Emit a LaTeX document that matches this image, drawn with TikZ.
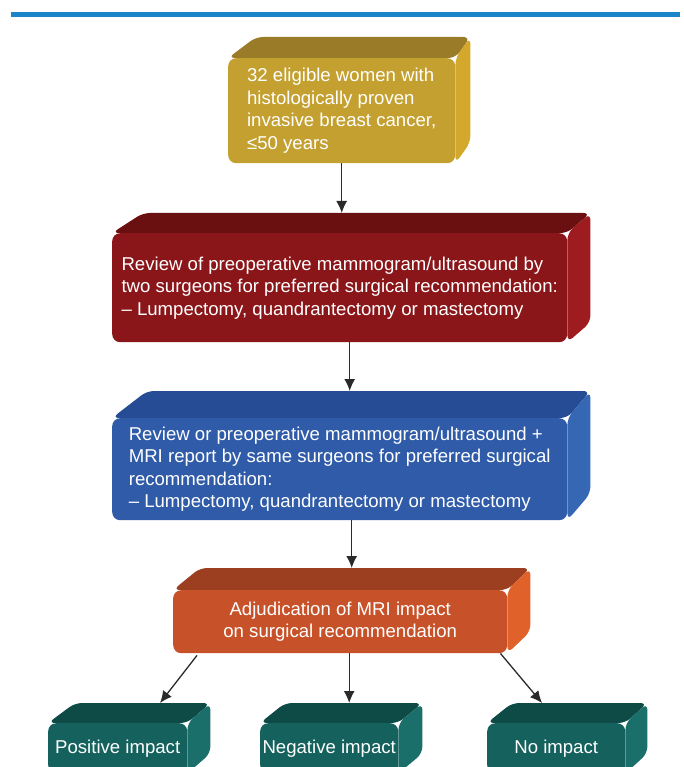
\documentclass[tikz,border=0pt]{standalone}
\usepackage{fontspec}
\setmainfont{Liberation Sans}
\usetikzlibrary{arrows.meta, backgrounds}

\definecolor{barblue}{HTML}{1A85C8}
\definecolor{goldfront}{HTML}{C4A030}
\definecolor{goldtop}{HTML}{9A7C28}
\definecolor{goldside}{HTML}{D4A82C}
\definecolor{winefront}{HTML}{8A1619}
\definecolor{winetop}{HTML}{6A1010}
\definecolor{wineside}{HTML}{9E1C1F}
\definecolor{royalfront}{HTML}{2F5BA8}
\definecolor{royaltop}{HTML}{254C94}
\definecolor{royalside}{HTML}{3567B5}
\definecolor{rustfront}{HTML}{C7522A}
\definecolor{rusttop}{HTML}{9C3F20}
\definecolor{rustside}{HTML}{E0622A}
\definecolor{tealfront}{HTML}{14615D}
\definecolor{tealtop}{HTML}{0E4B47}
\definecolor{tealside}{HTML}{1B6F6A}
\definecolor{arrowgray}{HTML}{2A2A2A}

\newcommand{\boxfont}{\fontsize{18.6}{22.5}\selectfont}

\tikzset{
  flowbox/.style = {rounded corners = 8pt, text = white, font = \boxfont, inner sep = 0pt, anchor = north west},
  flowarrow/.style = {-{Latex[length = 12pt, width = 11pt]}, draw = arrowgray, line width = 1.3pt}
}

\begin{document}
\begin{tikzpicture}[x = 1pt, y = -1pt]
\useasboundingbox (0,0) rectangle (683,767);
\fill[barblue] (11,12) rectangle (680,17);

\node[flowbox, fill = goldfront, align = left, minimum width = 227pt, minimum height = 105pt] (elig) at (228,58) {32 eligible women with\\histologically proven\\invasive breast cancer,\\≤50 years};
\node[flowbox, fill = winefront, align = left, inner xsep = 9pt, minimum width = 455pt, minimum height = 109pt] (review) at (112,233) {Review of preoperative mammogram/ultrasound by\\two surgeons for preferred surgical recommendation:\\– Lumpectomy, quandrantectomy or mastectomy};
\node[flowbox, fill = royalfront, align = left, inner xsep = 16pt, minimum width = 455pt, minimum height = 102pt] (mri) at (112,418) {Review or preoperative mammogram/ultrasound +\\MRI report by same surgeons for preferred surgical\\recommendation:\\– Lumpectomy, quandrantectomy or mastectomy};
\node[flowbox, fill = rustfront, align = center, minimum width = 334pt, minimum height = 63pt] (adj) at (173,590) {Adjudication of MRI impact\\on surgical recommendation};
\node[flowbox, fill = tealfront, minimum width = 139pt, minimum height = 50pt] (pos) at (48,723) {Positive impact};
\node[flowbox, fill = tealfront, minimum width = 138pt, minimum height = 50pt] (neg) at (260,723) {Negative impact};
\node[flowbox, fill = tealfront, minimum width = 138pt, minimum height = 50pt] (none) at (487,723) {No impact};

% top and side faces of the boxes
\begin{pgfonlayer}{background}
\foreach \bx/\lx/\rx/\hy/\col in {elig/28/15/21/gold, review/31/23/20/wine, mri/35/23/27/royal, adj/27/23/22/rust, pos/27/23/20/teal, neg/25/24/20/teal, none/25/22/20/teal}{
  \fill[fill = \col top, rounded corners = 7pt] (\bx.north west) -- ++(\lx pt,\hy pt) -- ([shift = {(\rx pt,\hy pt)}]\bx.north east) -- (\bx.north east) -- cycle;
  \fill[fill = \col side, rounded corners = 7pt] (\bx.north east) -- ++(\rx pt,\hy pt) -- ([shift = {(\rx pt,\hy pt)}]\bx.south east) -- (\bx.south east) -- cycle;
}
\end{pgfonlayer}

\draw[flowarrow] (elig.south) -- ([yshift = 20pt]elig.south |- review.north);
\draw[flowarrow] ([xshift = 10pt]review.south) -- ([xshift = 10pt, yshift = 27pt]review.south |- mri.north);
\draw[flowarrow] ([xshift = 12pt]mri.south) -- ([xshift = 12pt, yshift = 22pt]mri.south |- adj.north);
\draw[flowarrow] ([xshift = 24pt, yshift = -2pt]adj.south west) -- ([xshift = 112pt, yshift = 20pt]pos.north west);
\draw[flowarrow] ([xshift = 9pt]adj.south) -- ([xshift = 9pt, yshift = 20pt]adj.south |- neg.north);
\draw[flowarrow] ([xshift = -7pt]adj.south east) -- ([xshift = 55pt, yshift = 20pt]none.north west);
\end{tikzpicture}
\end{document}
